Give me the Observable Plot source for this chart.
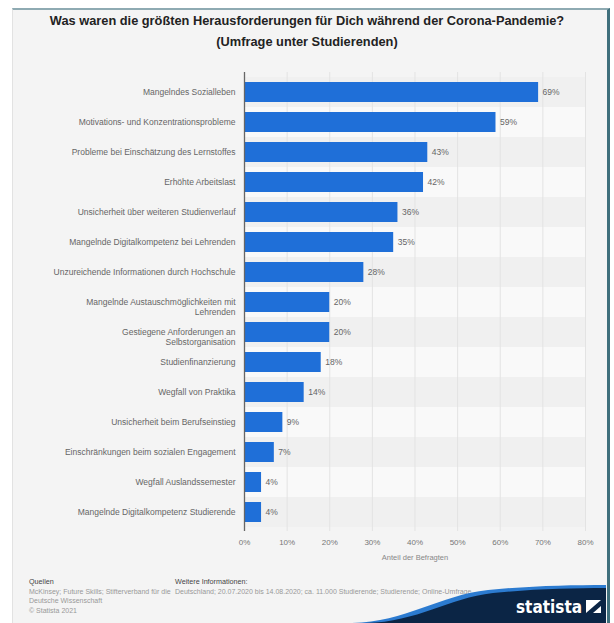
<!DOCTYPE html>
<html>
<head>
<meta charset="utf-8">
<script src="https://cdn.jsdelivr.net/npm/d3@7"></script>
<script src="https://cdn.jsdelivr.net/npm/@observablehq/plot@0.6"></script>
<style>
  html, body { margin: 0; padding: 0; background: #ffffff; }
  #wrap { position: relative; width: 614px; height: 623px; overflow: hidden; font-family: "Liberation Sans", Arial, sans-serif; }
  #card { position: absolute; left: 12px; top: 8px; width: 594px; height: 620px; background: #f4f4f4;
          border-top: 2px solid #8eaab2; border-left: 1px solid #e2e2e2; border-right: 3px solid #3f6f7c; }
  #title { position: absolute; left: 0; top: 10px; width: 614px; text-align: center; font-weight: bold;
           font-size: 12.8px; line-height: 21px; color: #222; }
  #chart { position: absolute; left: 0; top: 60px; }
  .foot { position: absolute; font-size: 7px; line-height: 9.5px; color: #999; }
  .foot b { color: #444; font-weight: normal; font-size: 7.2px; }
  #logo { position: absolute; left: 0; top: 0; }
</style>
</head>
<body>
<div id="wrap">
  <div id="card"></div>
  <div id="title">Was waren die größten Herausforderungen für Dich während der Corona-Pandemie?<br>(Umfrage unter Studierenden)</div>
  <div id="chart"></div>
  <div class="foot" style="left:29px; top:577px; width:170px;"><b>Quellen</b><br>McKinsey; Future Skills; Stifterverband für die<br>Deutsche Wissenschaft<br>© Statista 2021</div>
  <div class="foot" style="left:175px; top:577px; width:420px; white-space:nowrap;"><b>Weitere Informationen:</b><br>Deutschland; 20.07.2020 bis 14.08.2020; ca. 11.000 Studierende; Studierende; Online-Umfrage</div>
  <svg id="logo" width="614" height="623">
    <path d="M352,623 C405,622 440,595 488,590 C528,586 570,585 606,585 L606,623 Z" fill="#2c7bd0"/>
    <path d="M366,623 C418,622 448,598 493,593 C533,589 572,588 606,588 L606,623 Z" fill="#0b2545"/>
    <text x="516" y="613" fill="#ffffff" font-family="DejaVu Sans Condensed, Liberation Sans Narrow, sans-serif" font-size="17" font-weight="bold">statista</text>
    <rect x="586" y="600" width="15" height="13" fill="#ffffff"/>
    <path d="M586,613 L601,600 L601,606 L593,613 Z" fill="#0b2545"/>
  </svg>
</div>
<script>
const categories = [
  "Mangelndes Sozialleben",
  "Motivations- und Konzentrationsprobleme",
  "Probleme bei Einschätzung des Lernstoffes",
  "Erhöhte Arbeitslast",
  "Unsicherheit über weiteren Studienverlauf",
  "Mangelnde Digitalkompetenz bei Lehrenden",
  "Unzureichende Informationen durch Hochschule",
  "Mangelnde Austauschmöglichkeiten mit\nLehrenden",
  "Gestiegene Anforderungen an\nSelbstorganisation",
  "Studienfinanzierung",
  "Wegfall von Praktika",
  "Unsicherheit beim Berufseinstieg",
  "Einschränkungen beim sozialen Engagement",
  "Wegfall Auslandssemester",
  "Mangelnde Digitalkompetenz Studierende"
];
const values = [69, 59, 43, 42, 36, 35, 28, 20, 20, 18, 14, 9, 7, 4, 4];
const xTicks = [0, 10, 20, 30, 40, 50, 60, 70, 80];
const axisTitle = "Anteil der Befragten";

const data = categories.map((c, i) => ({c, v: values[i], i}));

const chart = Plot.plot({
  width: 614,
  height: 520,
  marginLeft: 244,
  marginRight: 29,
  marginTop: 12,
  marginBottom: 49,
  style: {background: "transparent", fontFamily: "Liberation Sans, Arial, sans-serif"},
  x: {domain: [0, 80], axis: null},
  y: {domain: categories, padding: 0, axis: null},
  marks: [
    Plot.barX(data, {y: "c", x1: 0, x2: 80, fill: d => d.i % 2 === 0 ? "#f0f0f0" : "#f9f9f9"}),
    Plot.ruleX(xTicks.slice(1), {stroke: "#e3e3e3", strokeWidth: 1}),
    Plot.barX(data, {y: "c", x: "v", fill: "#1f6fd8", insetTop: 5, insetBottom: 5}),
    Plot.ruleX([0], {stroke: "#666", strokeWidth: 1.3}),
    Plot.text(data, {y: "c", x: "v", text: d => d.v + "%", dx: 4, textAnchor: "start", fill: "#666", fontSize: 8.5}),
    Plot.text(data, {y: "c", x: 0, text: "c", textAnchor: "end", dx: -9, lineAnchor: "top", dy: -5, lineHeight: 1.2, fill: "#666", fontSize: 8.5}),
    Plot.axisX({ticks: xTicks, tickSize: 0, tickPadding: 8, tickFormat: d => d + "%", fontSize: 8, color: "#777", label: null}),
    Plot.text([axisTitle], {frameAnchor: "bottom", dy: 28, fill: "#888", fontSize: 7.5})
  ]
});
document.getElementById("chart").appendChild(chart);
</script>
</body>
</html>
